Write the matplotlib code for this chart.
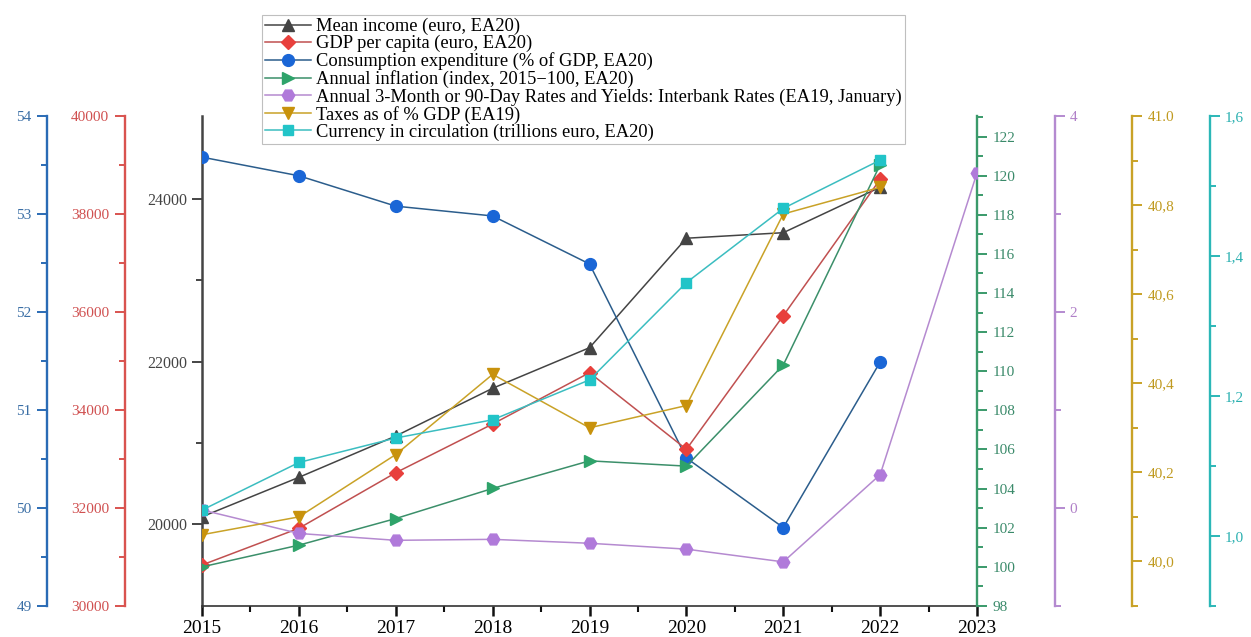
import numpy as np
import matplotlib
matplotlib.use('Agg')
import matplotlib.pyplot as plt
from matplotlib.ticker import FixedLocator, FixedFormatter

plt.rcParams['font.family'] = ['Liberation Serif', 'DejaVu Serif']

years = [2015, 2016, 2017, 2018, 2019, 2020, 2021, 2022, 2023]

mean_income = [20092, 20577, 21085, 21672, 22171, 23517, 23585, 24144]
gdp_per_capita = [30837, 31586, 32720, 33714, 34761, 33198, 35924, 38708]
consumption = [53.58, 53.39, 53.08, 52.98, 52.49, 50.51, 49.80, 51.49]
inflation = [100.0, 101.11, 102.47, 104.01, 105.42, 105.15, 110.32, 120.56]
interbank = [-0.02, -0.26, -0.33, -0.32, -0.36, -0.42, -0.55, 0.34, 3.42]
taxes = [40.06, 40.10, 40.24, 40.42, 40.30, 40.35, 40.78, 40.84]
currency = [1.037, 1.105, 1.140, 1.166, 1.223, 1.362, 1.468, 1.537]

gold_labels = ['40,0', '40,2', '40,4', '40,6', '40,8', '41.0']
teal_labels = ['1,0', '1,2', '1,4', '1,6']
purple_labels = ['0', '2', '4']

fig = plt.figure(figsize=(12.51, 6.37), dpi=100)
ax = fig.add_axes([0.1615, 0.0487, 0.6195, 0.7692])


def style_axis(a, side, pos, color, tcolor, ylim, major, minor, labels=None):
    for s in a.spines.values():
        s.set_visible(False)
    sp = a.spines[side]
    sp.set_visible(True)
    sp.set_position(('axes', pos))
    sp.set_color(color)
    sp.set_linewidth(1.7)
    a.yaxis.set_ticks_position(side)
    a.yaxis.set_label_position(side)
    a.set_ylim(*ylim)
    a.yaxis.set_major_locator(FixedLocator(major))
    a.yaxis.set_minor_locator(FixedLocator(minor))
    if labels is not None:
        a.yaxis.set_major_formatter(FixedFormatter(labels))
    a.tick_params(axis='y', which='major', direction='out', length=7, width=1.4,
                  color=color, labelcolor=tcolor, labelsize=11, pad=4)
    a.tick_params(axis='y', which='minor', direction='out', length=4, width=1.4,
                  color=color)


# main axis (mean income)
ax.set_xlim(2015, 2023)
ax.set_ylim(18995, 25020)
for s in ['top', 'right']:
    ax.spines[s].set_visible(False)
ax.spines['left'].set_color('#444444')
ax.spines['left'].set_linewidth(1.8)
ax.spines['bottom'].set_color('#333333')
ax.spines['bottom'].set_linewidth(1.2)
ax.yaxis.set_major_locator(FixedLocator([20000, 22000, 24000]))
ax.yaxis.set_minor_locator(FixedLocator([21000, 23000]))
ax.tick_params(axis='y', which='major', direction='out', length=7, width=1.4,
               color='#444444', labelcolor='#444444', labelsize=11.5)
ax.tick_params(axis='y', which='minor', direction='out', length=4, width=1.4, color='#444444')
ax.set_xticks(years)
ax.set_xticks(np.arange(2015.5, 2023, 1.0), minor=True)
ax.tick_params(axis='x', which='major', direction='out', length=7, width=1.8,
               color='#111111', labelsize=14, pad=3)
ax.tick_params(axis='x', which='minor', direction='out', length=4, width=1.5, color='#111111')

ax_blue = ax.twinx()
style_axis(ax_blue, 'left', -0.2, '#2a6bb5', '#3a6ea5', (49, 54),
           [49, 50, 51, 52, 53, 54], [49.5, 50.5, 51.5, 52.5, 53.5])
ax_red = ax.twinx()
style_axis(ax_red, 'left', -0.1, '#d9534f', '#d05050', (30000, 40000),
           list(range(30000, 40001, 2000)), list(range(31000, 40000, 2000)))
ax_green = ax.twinx()
style_axis(ax_green, 'right', 1.0, '#3a9a6a', '#3a8a6a', (98, 123.05),
           list(range(98, 123, 2)), list(range(99, 124, 2)))
ax_purple = ax.twinx()
style_axis(ax_purple, 'right', 1.1, '#b48ad0', '#b080c8', (-1, 4),
           [0, 2, 4], [-1, 1, 3], purple_labels)
ax_gold = ax.twinx()
style_axis(ax_gold, 'right', 1.2, '#c9a227', '#c09a20', (39.9, 41.0),
           [40.0, 40.2, 40.4, 40.6, 40.8, 41.0], [39.9, 40.1, 40.3, 40.5, 40.7, 40.9], gold_labels)
ax_teal = ax.twinx()
style_axis(ax_teal, 'right', 1.3, '#2bb7b7', '#2ab0b0', (0.9, 1.6),
           [1.0, 1.2, 1.4, 1.6], [0.9, 1.1, 1.3, 1.5], teal_labels)

n = len(mean_income)
h1, = ax.plot(years[:n], mean_income, color='#444444', lw=1.1, marker='^', ms=9,
              mfc='#444444', mec='#444444', label='Mean income (euro, EA20)')
h2, = ax_red.plot(years[:n], gdp_per_capita, color='#c05050', lw=1.1, marker='D', ms=7,
                  mfc='#e8403c', mec='#e8403c', label='GDP per capita (euro, EA20)')
h3, = ax_blue.plot(years[:n], consumption, color='#2b5d8c', lw=1.1, marker='o', ms=8.5,
                   mfc='#1a66d6', mec='#1a66d6', label='Consumption expenditure (% of GDP, EA20)')
h4, = ax_green.plot(years[:n], inflation, color='#3b8f6a', lw=1.1, marker='>', ms=9,
                    mfc='#2ea36a', mec='#2ea36a', label='Annual inflation (index, 2015\u2212100, EA20)')
h5, = ax_purple.plot(years, interbank, color='#b58ad0', lw=1.1, marker='H', ms=9,
                     mfc='#b07ada', mec='#b07ada',
                     label='Annual 3-Month or 90-Day Rates and Yields: Interbank Rates (EA19, January)')
h6, = ax_gold.plot(years[:n], taxes, color='#c9a227', lw=1.1, marker='v', ms=9,
                   mfc='#c8920c', mec='#c8920c', label='Taxes as of % GDP (EA19)')
h7, = ax_teal.plot(years[:n], currency, color='#3bbdc0', lw=1.1, marker='s', ms=7.5,
                   mfc='#22c4c8', mec='#22c4c8', label='Currency in circulation (trillions euro, EA20)')

leg = fig.legend(handles=[h1, h2, h3, h4, h5, h6, h7], loc='upper left',
                 bbox_to_anchor=(262 / 1251, 1 - 15 / 637), borderaxespad=0,
                 fontsize=13.3, labelspacing=0.0, handlelength=2.5, handletextpad=0.3,
                 borderpad=0.15, frameon=True, fancybox=False, edgecolor='#b0b0b0')
leg.get_frame().set_linewidth(0.8)

fig.savefig('out.png', dpi=100)
